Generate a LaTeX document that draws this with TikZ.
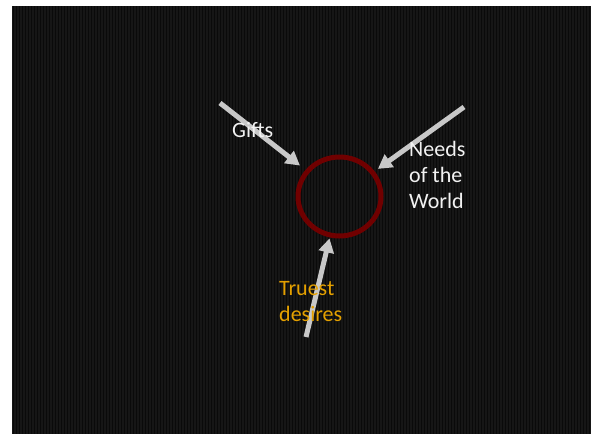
\documentclass[tikz,border=0pt]{standalone}
\usepackage{fontspec}
\setmainfont{Carlito}
\usetikzlibrary{arrows.meta,shapes.geometric}
\definecolor{bgdark}{RGB}{22,22,22}
\definecolor{bgstripe}{RGB}{10,10,10}
\definecolor{ringred}{RGB}{112,0,0}
\definecolor{arrgray}{RGB}{200,200,200}
\definecolor{txtorange}{RGB}{228,160,0}
\definecolor{txtwhite}{RGB}{242,242,242}
\tikzset{
  ring/.style={ellipse,draw=ringred,line width=5pt,minimum width=83pt,minimum height=79pt,inner sep=0pt},
  arr/.style={draw=arrgray,line width=5pt,-{Triangle[length=14pt,width=15pt]}},
  lbl/.style={font=\fontsize{22}{26}\selectfont,inner sep=0pt,align=left},
}
\begin{document}
\begin{tikzpicture}[x=1pt,y=-1pt]
\useasboundingbox (0,0) rectangle (591,434);
\fill[white] (0,0) rectangle (591,434);
\fill[bgdark] (12,6) rectangle (591,434);
\foreach \i in {0,...,192}{
  \draw[bgstripe,line width=1.2pt] ({13.5+3*\i},6) -- ({13.5+3*\i},434);
}
\node[ring] (c) at (339.5,196.5) {};
\coordinate (gs) at (220,103);
\coordinate (ns) at (464,107);
\coordinate (ts) at (306,337);
\draw[arr,shorten >=7pt] (gs) -- (c);
\draw[arr,shorten >=4pt] (ns) -- (c);
\draw[arr,shorten >=1pt] (ts) -- (c);
\node[lbl,text=txtwhite,anchor=north west] (gifts) at (232,122) {Gifts};
\node[lbl,text=txtwhite,anchor=north west] (needs) at (409,141) {Needs\\of the\\World};
\node[lbl,text=txtorange,anchor=north west] (truest) at (279,281) {Truest\\desires};
\end{tikzpicture}
\end{document}
